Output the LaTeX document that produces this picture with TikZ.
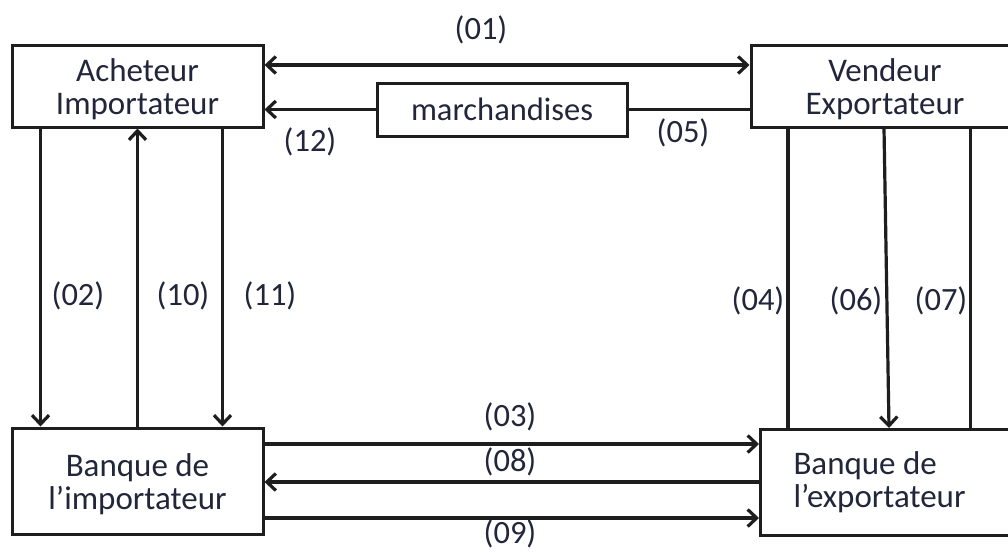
\documentclass[tikz,border=0pt]{standalone}
\usepackage{fontspec}
\setmainfont{Carlito}
\usetikzlibrary{arrows.meta}
\definecolor{linec}{HTML}{1E1E1E}
\definecolor{txt}{HTML}{22263A}
\begin{document}
\begin{tikzpicture}[x=1pt,y=-1pt,
  box/.style={draw=linec, line width=3pt, fill=white, inner sep=0pt},
  boxtext/.style={font=\fontsize{33}{33}\selectfont, text=txt, align=center, inner sep=0pt},
  lbl/.style={font=\fontsize{32.5}{33}\selectfont, text=txt, inner sep=0pt},
  conn/.style={draw=linec, line width=3.2pt},
  tip/.tip={Straight Barb[length=9pt,width=17pt]},
  arr/.style={conn, -tip},
  darr/.style={conn, tip-tip}]
\useasboundingbox (0,0) rectangle (1008,551);
\clip (0,0) rectangle (1008,551);
\fill[white] (0,0) rectangle (1008,551);

% boxes
\node[box, minimum width=251pt, minimum height=81pt] (ach) at (137.5,86.5) {};
\node[boxtext] (achT) at ([yshift=-3pt]ach.center) {Acheteur\\Importateur};
\node[box, minimum width=268pt, minimum height=81pt] (ven) at (885,86.5) {};
\node[boxtext] (venT) at ([yshift=-3pt]ven.center) {Vendeur\\Exportateur};
\node[box, boxtext, minimum width=250pt, minimum height=53pt, font=\fontsize{32.5}{33}\selectfont] (mar) at (502,109.5) {marchandises};
\node[box, minimum width=251pt, minimum height=106pt] (bim) at (137.5,481) {};
\node[boxtext] (bimT) at ([yshift=-3pt]bim.center) {Banque de\\l’importateur};
\node[box, boxtext, anchor=north west, minimum height=106pt, text width=214pt, align=flush left, inner xsep=33pt] (bex) at (759,428) {Banque de\\l’exportateur};

% helper coordinates
\coordinate (y01) at (0,65);
\coordinate (xa) at (40.5,0);
\coordinate (xc) at (222.5,0);
\coordinate (xd) at (788,0);
\coordinate (xe1) at (884,0);
\coordinate (xe2) at (889,0);
\coordinate (xf) at (970.5,0);
\coordinate (y03) at (0,444);
\coordinate (y08) at (0,482);
\coordinate (y09) at (0,518);

% top connectors
\draw[darr] (ach.east |- y01) -- (ven.west |- y01);
\draw[arr] (mar.west) -- (ach.east |- mar.west);
\draw[conn] (ven.west |- mar.east) -- (mar.east);

% left verticals
\draw[arr] (ach.south -| xa) -- (bim.north -| xa);
\draw[arr] (bim.north) -- (ach.south);
\draw[arr] (ach.south -| xc) -- (bim.north -| xc);

% right verticals
\draw[conn] (ven.south -| xd) -- (bex.north -| xd);
\draw[arr] (ven.south -| xe1) -- (bex.north -| xe2);
\draw[conn] (ven.south -| xf) -- (bex.north -| xf);

% bottom horizontals
\draw[arr] (bim.east |- y03) -- (bex.west |- y03);
\draw[arr] (bex.west |- y08) -- (bim.east |- y08);
\draw[arr] (bim.east |- y09) -- (bex.west |- y09);

% labels
\node[lbl] (l01) at (481,30) {(01)};
\node[lbl] (l12) at (310,142) {(12)};
\node[lbl] (l05) at (683,133) {(05)};
\node[lbl] (l02) at (78,296) {(02)};
\node[lbl] (l10) at (183,296) {(10)};
\node[lbl] (l11) at (270,296) {(11)};
\node[lbl] (l04) at (758,301) {(04)};
\node[lbl] (l06) at (856,301) {(06)};
\node[lbl] (l07) at (941,301) {(07)};
\node[lbl] (l03) at (510,417) {(03)};
\node[lbl] (l08) at (510,462) {(08)};
\node[lbl] (l09) at (510,534) {(09)};
\end{tikzpicture}
\end{document}
